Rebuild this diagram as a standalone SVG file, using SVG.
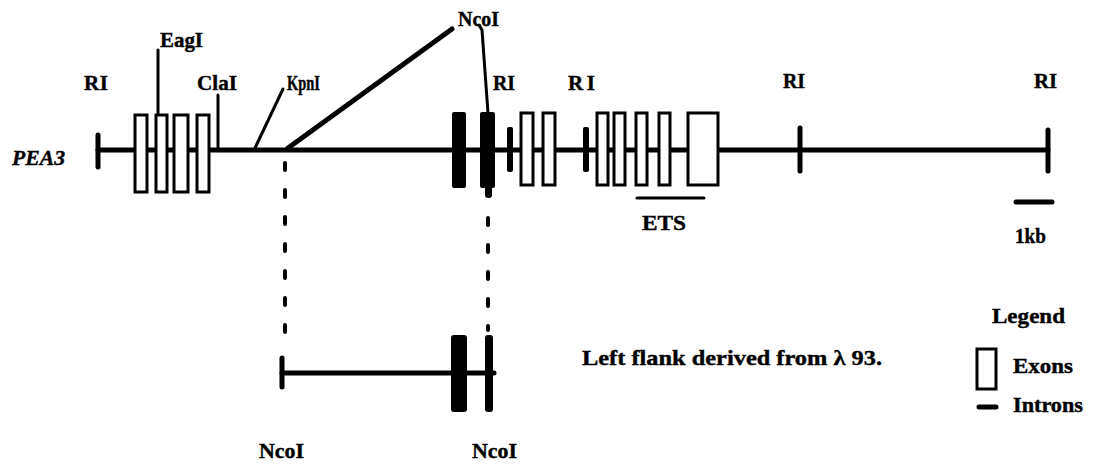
<svg xmlns="http://www.w3.org/2000/svg" width="1102" height="470" viewBox="0 0 1102 470">
<style>
text{font-family:"Liberation Serif","Times New Roman",serif;font-weight:bold;fill:#000;stroke:#000;stroke-width:0.4}
.lbl{font-size:21px}
.ln{stroke:#000;stroke-width:5;fill:none;stroke-linecap:round}
.thin{stroke:#000;stroke-width:3;fill:none;stroke-linecap:round}
.ex{fill:#fff;stroke:#000;stroke-width:3}
.fx{fill:#000;stroke:none}
.dot{stroke:#000;stroke-width:4;fill:none;stroke-linecap:round;stroke-dasharray:7 20}
</style>
<rect width="1102" height="470" fill="#fff"/>
<g id="connectors">
  <line class="ln" x1="98" y1="150" x2="1048" y2="150"/>
  <line class="ln" x1="98" y1="135" x2="98" y2="167"/>
  <line class="ln" x1="1048" y1="130" x2="1048" y2="171"/>
  <line class="ln" x1="800" y1="128" x2="800" y2="171"/>
  <line class="thin" x1="158" y1="50" x2="158" y2="114"/>
  <line class="thin" x1="218" y1="95" x2="218" y2="148"/>
  <line class="thin" x1="255" y1="148" x2="283" y2="89"/>
  <line class="ln" x1="288" y1="148" x2="452" y2="29"/>
  <polyline class="thin" points="479,25 482,30 488,113"/>
  <line class="dot" x1="285" y1="163" x2="285" y2="350"/>
  <line class="dot" x1="488" y1="218" x2="488" y2="330"/>
  <line class="ln" x1="282" y1="373" x2="494" y2="373"/>
  <line class="ln" x1="282" y1="358" x2="282" y2="387"/>
  <line class="thin" x1="637" y1="198" x2="704" y2="198"/>
  <line class="ln" x1="1016" y1="202" x2="1052" y2="202"/>
</g>
<g id="exons-left">
  <rect class="ex" x="135" y="115" width="12" height="77"/>
  <rect class="ex" x="156" y="115" width="11" height="77"/>
  <rect class="ex" x="174" y="115" width="14" height="77"/>
  <rect class="ex" x="197" y="115" width="12" height="77"/>
</g>
<g id="exons-mid">
  <rect class="fx" x="452" y="112" width="14" height="76" rx="2"/>
  <rect class="fx" x="480" y="112" width="15" height="76" rx="2"/>
  <rect class="fx" x="485" y="180" width="7" height="18" rx="3"/>
  <rect class="fx" x="507" y="127" width="6" height="45" rx="2"/>
  <rect class="ex" x="521" y="113" width="12" height="72"/>
  <rect class="ex" x="543" y="113" width="12" height="72"/>
  <rect class="fx" x="583" y="127" width="6" height="45" rx="2"/>
  <rect class="ex" x="597" y="113" width="11" height="72"/>
  <rect class="ex" x="614" y="113" width="11" height="72"/>
  <rect class="ex" x="636" y="113" width="11" height="72"/>
  <rect class="ex" x="659" y="113" width="11" height="72"/>
  <rect class="ex" x="688" y="113" width="30" height="72"/>
</g>
<g id="fragment">
  <rect class="fx" x="451" y="335" width="16" height="77" rx="3"/>
  <rect class="fx" x="485" y="335" width="8" height="77" rx="3"/>
</g>
<g id="labels">
  <text x="12" y="165" font-size="22" font-style="italic" textLength="53" lengthAdjust="spacingAndGlyphs">PEA3</text>
  <text class="lbl" x="84" y="90" textLength="24" lengthAdjust="spacing">RI</text>
  <text class="lbl" x="160" y="47" textLength="43" lengthAdjust="spacingAndGlyphs">EagI</text>
  <text class="lbl" x="197" y="90" textLength="40" lengthAdjust="spacingAndGlyphs">ClaI</text>
  <text class="lbl" x="287" y="90" textLength="33" lengthAdjust="spacingAndGlyphs">KpnI</text>
  <text class="lbl" x="458" y="26" textLength="41" lengthAdjust="spacingAndGlyphs">NcoI</text>
  <text class="lbl" x="493" y="90" textLength="22" lengthAdjust="spacingAndGlyphs">RI</text>
  <text class="lbl" x="568" y="90" textLength="27" lengthAdjust="spacing">RI</text>
  <text class="lbl" x="783" y="88" textLength="22" lengthAdjust="spacingAndGlyphs">RI</text>
  <text class="lbl" x="1034" y="88" textLength="23" lengthAdjust="spacingAndGlyphs">RI</text>
  <text class="lbl" x="642" y="230" textLength="44" lengthAdjust="spacingAndGlyphs">ETS</text>
  <text class="lbl" x="1015" y="243" textLength="31" lengthAdjust="spacingAndGlyphs">1kb</text>
  <text class="lbl" x="259" y="458" textLength="45" lengthAdjust="spacingAndGlyphs">NcoI</text>
  <text class="lbl" x="472" y="458" textLength="45" lengthAdjust="spacingAndGlyphs">NcoI</text>
  <text x="582" y="365" font-size="22" textLength="300" lengthAdjust="spacingAndGlyphs">Left flank derived from λ 93.</text>
</g>
<g id="legend">
  <text class="lbl" x="992" y="323" textLength="73" lengthAdjust="spacingAndGlyphs">Legend</text>
  <rect class="ex" x="977" y="349" width="19" height="40"/>
  <text class="lbl" x="1013" y="373" textLength="60" lengthAdjust="spacingAndGlyphs">Exons</text>
  <line class="ln" x1="979" y1="407" x2="996" y2="407"/>
  <text class="lbl" x="1013" y="412" textLength="70" lengthAdjust="spacingAndGlyphs">Introns</text>
</g>
</svg>
